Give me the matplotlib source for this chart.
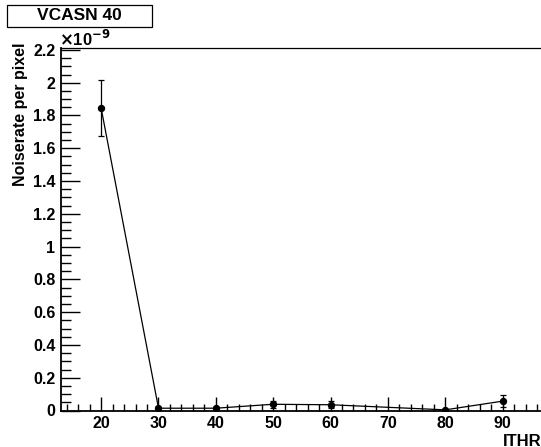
import matplotlib.pyplot as plt
from matplotlib.patches import Rectangle
from matplotlib.ticker import MultipleLocator, FuncFormatter

plt.rcParams["font.family"] = ["Liberation Sans", "DejaVu Sans"]
plt.rcParams["font.weight"] = "bold"

# data (noise rate in units of 1e-9)
ithr = [20, 30, 40, 50, 60, 80, 90]
noise = [1.845, 0.014, 0.014, 0.038, 0.035, 0.004, 0.057]
noise_err = [0.17, 0.008, 0.008, 0.02, 0.02, 0.008, 0.038]
title = "VCASN 40"

W, H = 541, 447
fig = plt.figure(figsize=(W / 100, H / 100), dpi=100)

left, right = 61 / W, 1.0
bottom, top = 1 - 410.5 / H, 1 - 48.3 / H
ax = fig.add_axes([left, bottom, right - left, top - bottom])

ax.errorbar(ithr, noise, yerr=noise_err, color="black", lw=0.9,
            marker="o", ms=4.3, capsize=2, elinewidth=0.9, capthick=0.9)

ax.set_xlim(13.0, 96.7)
ax.set_ylim(0, 2.21)

for s in ["left", "bottom"]:
    ax.spines[s].set_linewidth(1.3)
ax.spines["top"].set_linewidth(0.9)
ax.spines["right"].set_visible(False)

ax.xaxis.set_major_locator(MultipleLocator(10))
ax.xaxis.set_minor_locator(MultipleLocator(2))
ax.yaxis.set_major_locator(MultipleLocator(0.2))
ax.yaxis.set_minor_locator(MultipleLocator(0.05))
ax.yaxis.set_major_formatter(FuncFormatter(lambda v, p: f"{v:.1f}".rstrip("0").rstrip(".")))

ax.tick_params(which="both", direction="in", top=False, right=False,
               width=1.0, labelsize=11.5, pad=4)
ax.tick_params(axis="x", which="major", length=10)
ax.tick_params(axis="x", which="minor", length=5)
ax.tick_params(axis="y", which="major", length=14)
ax.tick_params(axis="y", which="minor", length=7)
for lab in ax.get_xticklabels() + ax.get_yticklabels():
    lab.set_fontweight("bold")

# exponent label
fig.text(59 / W, 1 - 45.5 / H, r"$\times$10$^{-9}$", fontsize=12, fontweight="bold",
         ha="left", va="baseline")

# axis titles
fig.text(21 / W, 1 - 43 / H, "Noiserate per pixel", rotation=90, fontsize=11.5,
         fontweight="bold", ha="center", va="top")
fig.text(541 / W, 1 - 445.5 / H, "ITHR", fontsize=12, fontweight="bold",
         ha="right", va="baseline")

# title box
fig.patches.append(Rectangle((7 / W, 1 - 27 / H), 145 / W, 22 / H,
                             transform=fig.transFigure, facecolor="white",
                             edgecolor="black", lw=0.9))
fig.text(79 / W, 1 - 16 / H, title, fontsize=12.5, fontweight="bold",
         ha="center", va="center")

fig.savefig("out.png", dpi=100)
